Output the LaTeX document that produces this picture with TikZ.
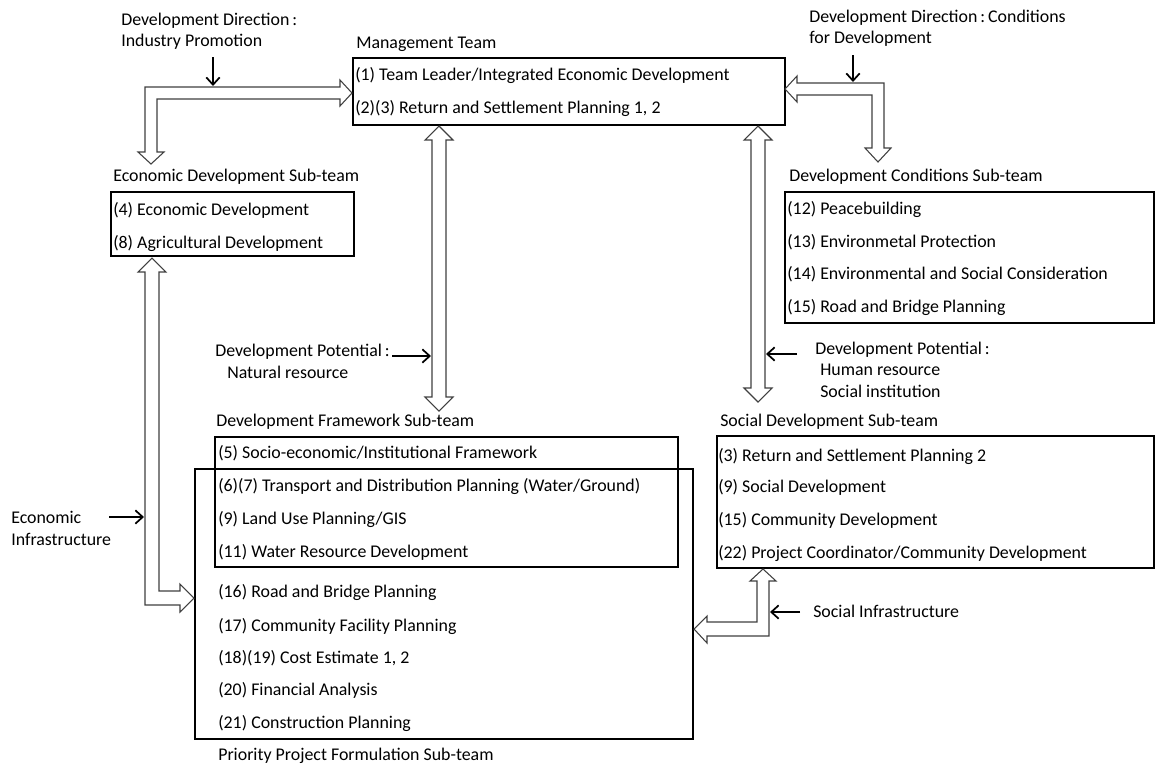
\documentclass[tikz,border=0pt]{standalone}
\usepackage{fontspec}
\setmainfont{Carlito}
\usetikzlibrary{arrows.meta,fit}
\tikzset{
  txt/.style={anchor=base west, inner sep=0pt, font=\fontsize{13.4}{15}\selectfont},
  box/.style={draw=black, line width=1.5pt, inner sep=0pt},
  hollow/.style={draw=black!75, line width=0.8pt, fill=white, line join=miter},
  feed/.style={draw=black, line width=1.3pt, -{Straight Barb[length=5.5pt,width=10pt,line width=1.3pt]}}
}
\begin{document}
\begin{tikzpicture}[x=0.75pt,y=-0.75pt]
\useasboundingbox (0,0) rectangle (1156,769);
\fill[white] (0,0) rectangle (1156,769);

% boxes
\node[box, fit={(353,58) (785,125)}] (mgmt) {};
\node[box, fit={(111,192) (354,256)}] (econ) {};
\node[box, fit={(785,192) (1154,323)}] (cond) {};
\node[box, fit={(215,437) (678,567)}] (frame) {};
\node[box, fit={(195,469) (693,739)}] (prio) {};
\node[box, fit={(717,436) (1154,568)}] (soc) {};

% labels
\node[txt] (ddl1) at (121,25) {Development Direction\,:};
\node[txt] (ddl2) at (121,46) {Industry Promotion};
\node[txt] (ddr1) at (809,22) {Development Direction\,:\,Conditions};
\node[txt] (ddr2) at (809,43) {for Development};
\node[txt] (mgmtl) at (356,48) {Management Team};
\node[txt] (m1) at (355,80) {(1) Team Leader/Integrated Economic Development};
\node[txt] (m2) at (355,113) {(2)(3) Return and Settlement Planning 1, 2};
\node[txt] (econl) at (113,181) {Economic Development Sub-team};
\node[txt] (e1) at (113,215) {(4) Economic Development};
\node[txt] (e2) at (113,248) {(8) Agricultural Development};
\node[txt] (condl) at (789,181) {Development Conditions Sub-team};
\node[txt] (c1) at (787,214) {(12) Peacebuilding};
\node[txt] (c2) at (787,247) {(13) Environmetal Protection};
\node[txt] (c3) at (787,279) {(14) Environmental and Social Consideration};
\node[txt] (c4) at (787,312) {(15) Road and Bridge Planning};
\node[txt] (dpn1) at (215,356) {Development Potential\,:};
\node[txt] (dpn2) at (227,378) {Natural resource};
\node[txt] (dph1) at (815,354) {Development Potential\,:};
\node[txt] (dph2) at (820,375) {Human resource};
\node[txt] (dph3) at (820,397) {Social institution};
\node[txt] (framel) at (216,426) {Development Framework Sub-team};
\node[txt] (f1) at (218,458) {(5) Socio-economic/Institutional Framework};
\node[txt] (f2) at (218,491) {(6)(7) Transport and Distribution Planning (Water/Ground)};
\node[txt] (f3) at (218,524) {(9) Land Use Planning/GIS};
\node[txt] (f4) at (218,557) {(11) Water Resource Development};
\node[txt] (p1) at (218,597) {(16) Road and Bridge Planning};
\node[txt] (p2) at (218,631) {(17) Community Facility Planning};
\node[txt] (p3) at (218,663) {(18)(19) Cost Estimate 1, 2};
\node[txt] (p4) at (218,695) {(20) Financial Analysis};
\node[txt] (p5) at (218,728) {(21) Construction Planning};
\node[txt] (priol) at (218,760) {Priority Project Formulation Sub-team};
\node[txt] (socl) at (720,426) {Social Development Sub-team};
\node[txt] (s1) at (718,461) {(3) Return and Settlement Planning 2};
\node[txt] (s2) at (718,492) {(9) Social Development};
\node[txt] (s3) at (718,525) {(15) Community Development};
\node[txt] (s4) at (718,558) {(22) Project Coordinator/Community Development};
\node[txt] (ei1) at (11,523) {Economic};
\node[txt] (ei2) at (11,545) {Infrastructure};
\node[txt] (si) at (813,617) {Social Infrastructure};

% hollow arrows
\draw[hollow] (151,164) -- (164,152) -- (157,152) -- (157,99) -- (340,99) -- (340,106) -- (352,93) -- (340,80) -- (340,87) -- (145,87) -- (145,152) -- (138,152) -- cycle;
\draw[hollow] (785,89) -- (797,76) -- (797,83) -- (884,83) -- (884,148) -- (891,148) -- (878,162) -- (865,148) -- (872,148) -- (872,95) -- (797,95) -- (797,102) -- cycle;
\draw[hollow] (439,126) -- (453,140) -- (446,140) -- (446,397) -- (453,397) -- (439,411) -- (425,397) -- (432,397) -- (432,140) -- (425,140) -- cycle;
\draw[hollow] (758,126) -- (772,140) -- (765,140) -- (765,388) -- (772,388) -- (758,402) -- (744,388) -- (751,388) -- (751,140) -- (744,140) -- cycle;
\draw[hollow] (152,258) -- (166,272) -- (159,272) -- (159,591) -- (180,591) -- (180,584) -- (194,598) -- (180,612) -- (180,605) -- (145,605) -- (145,272) -- (138,272) -- cycle;
\draw[hollow] (763,569) -- (776,581) -- (769,581) -- (769,636) -- (707,636) -- (707,643) -- (694,629) -- (707,616) -- (707,622) -- (757,622) -- (757,581) -- (750,581) -- cycle;

% feed arrows
\coordinate (fa1) at (213,57); \coordinate (fa1e) at (213,86);
\coordinate (fa2) at (853,55); \coordinate (fa2e) at (853,82);
\coordinate (fa3) at (392,356); \coordinate (fa3e) at (431,356);
\coordinate (fa4) at (797,354); \coordinate (fa4e) at (766,354);
\coordinate (fa5) at (109,517); \coordinate (fa5e) at (144,517);
\coordinate (fa6) at (800,612); \coordinate (fa6e) at (770,612);
\draw[feed] (fa1) -- (fa1e);
\draw[feed] (fa2) -- (fa2e);
\draw[feed] (fa3) -- (fa3e);
\draw[feed] (fa4) -- (fa4e);
\draw[feed] (fa5) -- (fa5e);
\draw[feed] (fa6) -- (fa6e);
\end{tikzpicture}
\end{document}
